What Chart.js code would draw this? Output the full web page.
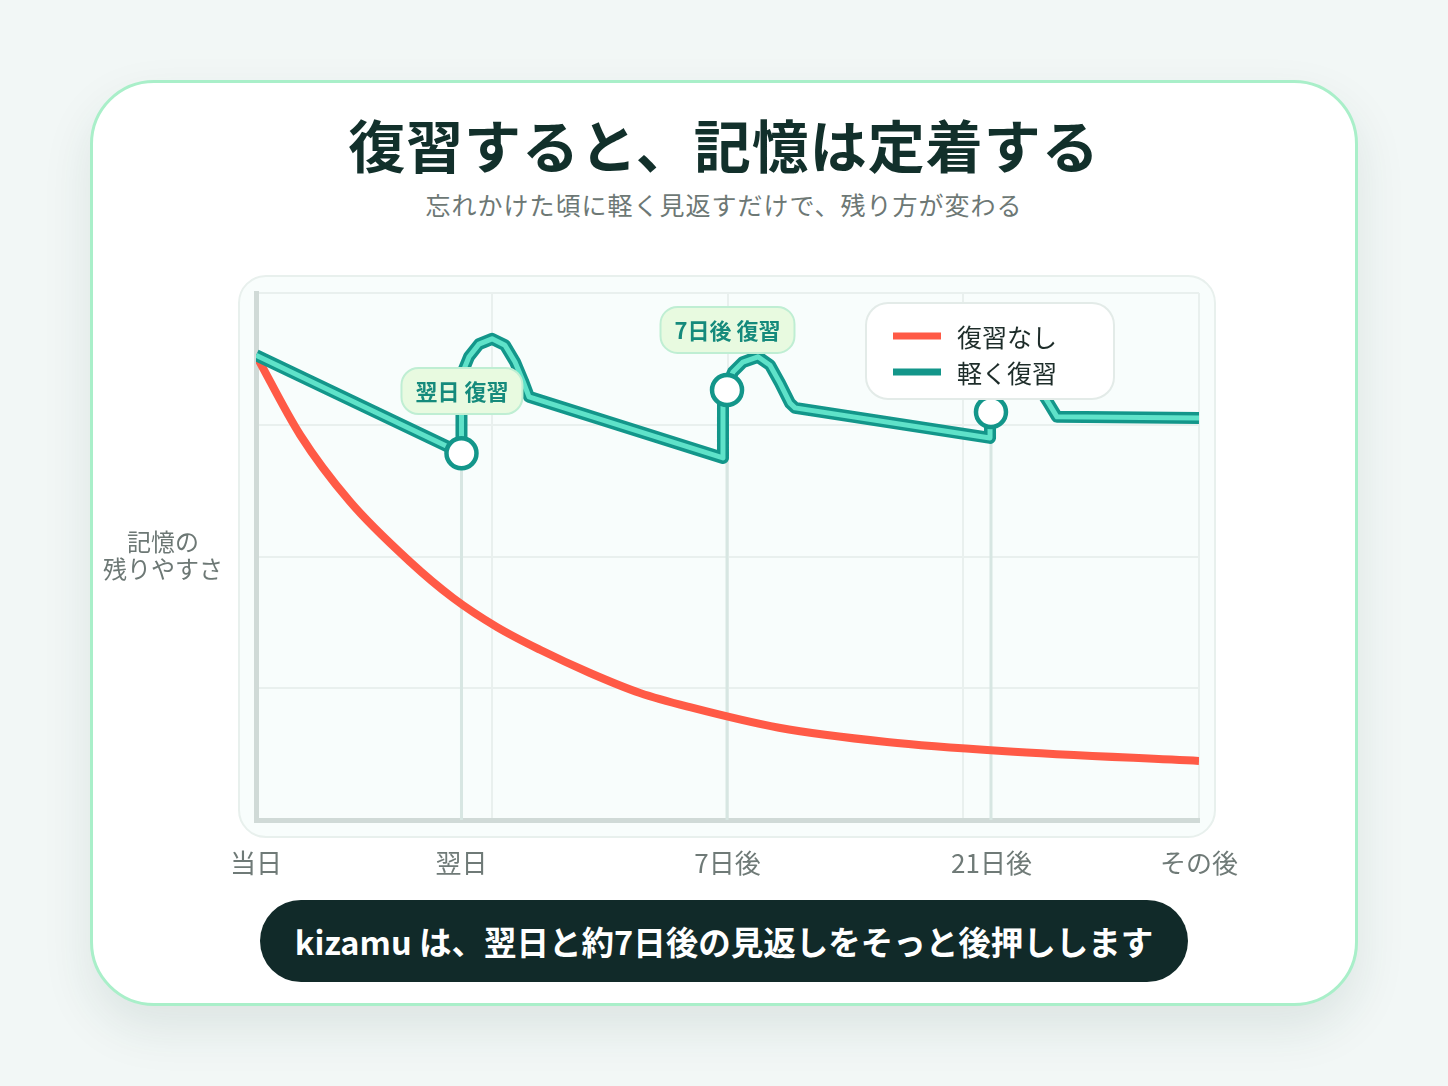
<!DOCTYPE html>
<html lang="ja">
<head>
<meta charset="utf-8">
<script src="https://cdn.jsdelivr.net/npm/chart.js@4.4.1/dist/chart.umd.min.js"></script>
<style>
  body{margin:0;width:1448px;height:1086px;background:#f2f7f6;font-family:"Noto Sans CJK JP","Noto Sans",sans-serif;position:relative;overflow:hidden;}
  .card{position:absolute;left:90px;top:80px;width:1262px;height:920px;background:#fff;border:3px solid #a9efc9;border-radius:64px;box-shadow:0 22px 50px rgba(30,70,60,0.10);}
  .panel{position:absolute;left:238px;top:275px;width:974px;height:559px;background:#f8fdfc;border:2px solid #e8f0ed;border-radius:28px;}
  .title{position:absolute;left:0;width:1448px;top:103px;height:80px;line-height:80px;text-align:center;font-size:57px;font-weight:700;color:#12302b;letter-spacing:1px;}
  .sub{position:absolute;left:0;width:1448px;top:188px;height:32px;line-height:32px;text-align:center;font-size:25px;color:#6d7875;letter-spacing:1px;}
  .banner{position:absolute;left:260px;top:900px;width:928px;height:82px;line-height:82px;border-radius:41px;background:#112a29;color:#fff;text-align:center;font-size:32.5px;font-weight:700;}
  canvas{position:absolute;left:0;top:0;}
</style>
</head>
<body>
<div class="card"></div>
<div class="panel"></div>
<div class="title">復習すると、記憶は定着する</div>
<div class="sub">忘れかけた頃に軽く見返すだけで、残り方が変わる</div>
<div class="banner">kizamu は、翌日と約7日後の見返しをそっと後押しします</div>
<canvas id="c" width="1448" height="1086"></canvas>
<script>
// x axis: 0 = 当日 .. 100 = その後 ; y: 記憶の残りやすさ 0..100
const tickPos = [0, 21.8, 50, 78, 100];
const tickLabels = ['当日', '翌日', '7日後', '21日後', 'その後'];

const redLabel = '復習なし';
const redX = [0, 4.67, 9.97, 16.33, 20.92, 25.56, 30.12, 35.42, 40.72, 46.02, 55.46, 66.91, 79.11, 100];
const redY = [88.2, 73.1, 60.4, 49.0, 42.1, 36.6, 32.3, 27.9, 24.1, 21.4, 17.5, 14.8, 13.1, 11.2];

const tealLabel = '軽く復習';
const tealX = [0, 21.79, 21.79, 22.59, 23.65, 25.03, 26.4, 27.47, 28.31, 28.95, 49.52, 49.52, 50.58, 51.64, 53.23, 54.51, 55.57, 56.63, 57.16, 77.84, 77.84, 78.9, 80.2, 81.5, 82.9, 83.99, 84.94, 100];
const tealY = [88.2, 69.6, 84.4, 87.9, 90.3, 91.3, 90.1, 86.9, 83.3, 80.3, 68.7, 80.6, 85.0, 86.9, 87.9, 86.3, 82.9, 79.1, 78.2, 72.5, 77.2, 81.2, 83.5, 83.9, 82.4, 79.3, 76.5, 76.3];

const markerX = [21.79, 49.95, 77.94];
const markerY = [69.6, 81.6, 77.4];

const noteLabels = ['翌日 復習', '7日後 復習'];
const noteX = [21.84, 50.0];
const noteY = [81.4, 93.0];

const RED = '#ff5a46', TEAL = '#13968a', MINT = '#5fe2c9';
const pts = (xs, ys) => xs.map((x, i) => ({x: x, y: ys[i]}));

const dropSets = markerX.map((x, i) => ({
  label: 'drop', data: [{x: x, y: markerY[i]}, {x: x, y: 0}],
  borderColor: '#d7e6e2', borderWidth: 3, pointRadius: 0, order: 5
}));

const notesPlugin = {//review labels, y title and legend box
  id: 'notes',
  afterDatasetsDraw(chart) {
    const ctx = chart.ctx, xs = chart.scales.x, ys = chart.scales.y;
    ctx.save();
    ctx.font = '700 22px "Noto Sans CJK JP"';
    ctx.textAlign = 'center';
    ctx.textBaseline = 'middle';
    noteLabels.forEach((t, i) => {
      const cx = xs.getPixelForValue(noteX[i]), cy = ys.getPixelForValue(noteY[i]);
      const w = ctx.measureText(t).width + 28, h = 46;
      ctx.beginPath();
      ctx.roundRect(cx - w / 2, cy - h / 2, w, h, 17);
      ctx.fillStyle = '#e8fae0';
      ctx.fill();
      ctx.lineWidth = 2;
      ctx.strokeStyle = '#bfeed3';
      ctx.stroke();
      ctx.fillStyle = '#158a7c';
      ctx.fillText(t, cx, cy + 1);
    });
    // legend
    const items = chart.data.datasets.filter(d => d.legendIndex !== undefined).sort((a, b) => a.legendIndex - b.legendIndex);
    ctx.beginPath();
    ctx.roundRect(866, 303, 248, 96, 22);
    ctx.fillStyle = '#ffffff';
    ctx.fill();
    ctx.lineWidth = 2;
    ctx.strokeStyle = '#e3ebe8';
    ctx.stroke();
    ctx.font = '25px "Noto Sans CJK JP"';
    ctx.textAlign = 'left';
    items.forEach((d, i) => {
      const y = 336 + i * 36;
      ctx.fillStyle = d.borderColor;
      ctx.fillRect(893, y - 3.5, 48, 7);
      ctx.fillStyle = '#1d2c29';
      ctx.fillText(d.label, 957, y + 1);
    });
    // y axis title
    ctx.font = '24px "Noto Sans CJK JP"';
    ctx.textAlign = 'center';
    ctx.fillStyle = '#6d7875';
    ctx.fillText('記憶の', 163, 542);
    ctx.fillText('残りやすさ', 163, 569);
    ctx.restore();
  }
};

new Chart(document.getElementById('c'), {
  type: 'line',
  data: {
    datasets: [
      {label: 'marker', data: pts(markerX, markerY), showLine: false, pointRadius: 15, pointBackgroundColor: '#fff', pointBorderColor: TEAL, pointBorderWidth: 4.5, order: 0},
      {label: tealLabel, data: pts(tealX, tealY), borderColor: MINT, borderWidth: 5, pointRadius: 0, tension: 0, order: 1, borderJoinStyle: 'round'},
      {label: tealLabel, data: pts(tealX, tealY), borderColor: TEAL, borderWidth: 12, pointRadius: 0, tension: 0, order: 2, borderJoinStyle: 'round', legendIndex: 1},
      {label: redLabel, data: pts(redX, redY), borderColor: RED, borderWidth: 8, pointRadius: 0, tension: 0.4, cubicInterpolationMode: 'monotone', order: 3, legendIndex: 0},
      ...dropSets
    ]
  },
  options: {
    responsive: false,
    animation: false,
    events: [],
    layout: {padding: {left: 256, right: 249, top: 293, bottom: 196}},
    plugins: {legend: {display: false}, tooltip: {enabled: false}},
    scales: {
      x: {
        type: 'linear', min: 0, max: 100, position: 'bottom',
        ticks: {display: false, stepSize: 25},
        grid: {color: '#e9f0ee', lineWidth: 2, drawTicks: false},
        border: {color: '#d0dad7', width: 5},
        afterFit: s => { s.height = 0; }
      },
      x2: {
        type: 'linear', min: 0, max: 100, position: 'bottom',
        grid: {display: false, drawTicks: false},
        border: {display: false},
        ticks: {
          autoSkip: false, maxRotation: 0, padding: 28, color: '#6f7a77',
          font: {size: 26, family: '"Noto Sans CJK JP"'},
          callback: v => tickLabels[tickPos.indexOf(v)]
        },
        afterBuildTicks: s => { s.ticks = tickPos.map(v => ({value: v})); },
        afterFit: s => { s.height = 70; }
      },
      y: {
        min: 0, max: 100,
        ticks: {display: false, stepSize: 25},
        grid: {color: '#e9f0ee', lineWidth: 2, drawTicks: false},
        border: {color: '#d0dad7', width: 5},
        afterFit: s => { s.width = 0; }
      }
    }
  },
  plugins: [notesPlugin]
});
</script>
</body>
</html>
